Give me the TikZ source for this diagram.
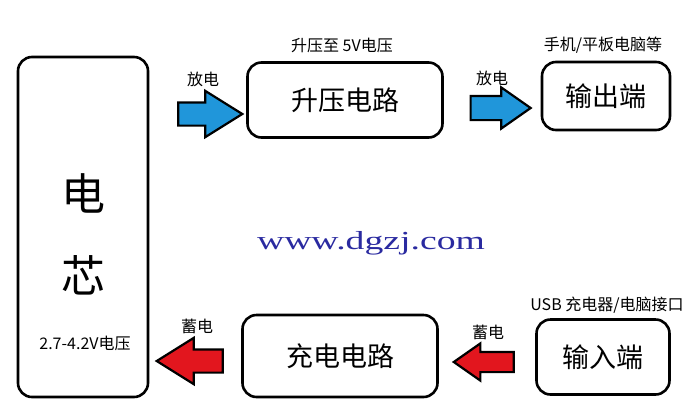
\documentclass[tikz,border=0pt]{standalone}
\usepackage{fontspec}
\setmainfont{Noto Sans CJK SC}
\newfontfamily\urlfont{Liberation Serif}
\usetikzlibrary{shapes.arrows}
\definecolor{arrowblue}{RGB}{32,150,218}
\definecolor{arrowred}{RGB}{226,22,30}
\definecolor{urlblue}{RGB}{42,42,160}
\begin{document}
\begin{tikzpicture}[x=1pt,y=-1pt,
  block/.style={draw,line width=2.6pt,rounded corners=14pt},
  fatarrow/.style={single arrow,draw,line width=2.2pt,inner sep=0pt,inner ysep=10.5pt,
    single arrow head extend=11.5pt,single arrow tip angle=64,minimum height=#1},
  fatarrow/.default=66pt,
  smallhead/.style={single arrow head extend=8.5pt,single arrow tip angle=70},
  note/.style={font=\fontsize{16}{18}\selectfont},
  boxtext/.style={font=\fontsize{27}{30}\selectfont}]
  \useasboundingbox (0,0) rectangle (699,400);
  % boxes
  \node[block,minimum width=130pt,minimum height=340pt] (cell) at (83,227) {};
  \node[block,minimum width=195pt,minimum height=75pt,boxtext] (boost) at (345,100) {升压电路};
  \node[block,minimum width=128pt,minimum height=68pt,boxtext] (out) at (606,96) {输出端};
  \node[block,minimum width=195pt,minimum height=82pt,boxtext] (charge) at (340,356) {充电电路};
  \node[block,minimum width=133pt,minimum height=75pt,boxtext] (in) at (603,357) {输入端};
  \node[font=\fontsize{44}{46}\selectfont] (c1) at (83,193) {电};
  \node[font=\fontsize{44}{46}\selectfont] (c2) at (83,275) {芯};
  \node[note] (volt) at (85,343) {2.7-4.2V电压};
  % arrows
  \node[fatarrow=64pt,fill=arrowblue] (a1) at (201,114) {};
  \node[fatarrow=60pt,smallhead,inner ysep=11pt,fill=arrowblue] (a2) at (492,108) {};
  \node[fatarrow,fill=arrowred,shape border rotate=180] (a3) at (199,361) {};
  \node[fatarrow=60pt,smallhead,inner ysep=9pt,fill=arrowred,shape border rotate=180] (a4) at (491,362) {};
  % labels
  \node[note] (l1) at (203,79) {放电};
  \node[note] (l2) at (492,78) {放电};
  \node[note] (l3) at (197,326) {蓄电};
  \node[note] (l4) at (488,332) {蓄电};
  \node[note] (l5) at (342,45) {升压至 5V电压};
  \node[note] (l6) at (603,45) {手机/平板电脑等};
  \node[note] (l7) at (607,305) {USB 充电器/电脑接口};
  \node[text=urlblue,font=\urlfont\fontsize{26}{28}\selectfont] (url) at (371,243)
    {\scalebox{1.45}[1]{www.dgzj.com}};
\end{tikzpicture}
\end{document}
